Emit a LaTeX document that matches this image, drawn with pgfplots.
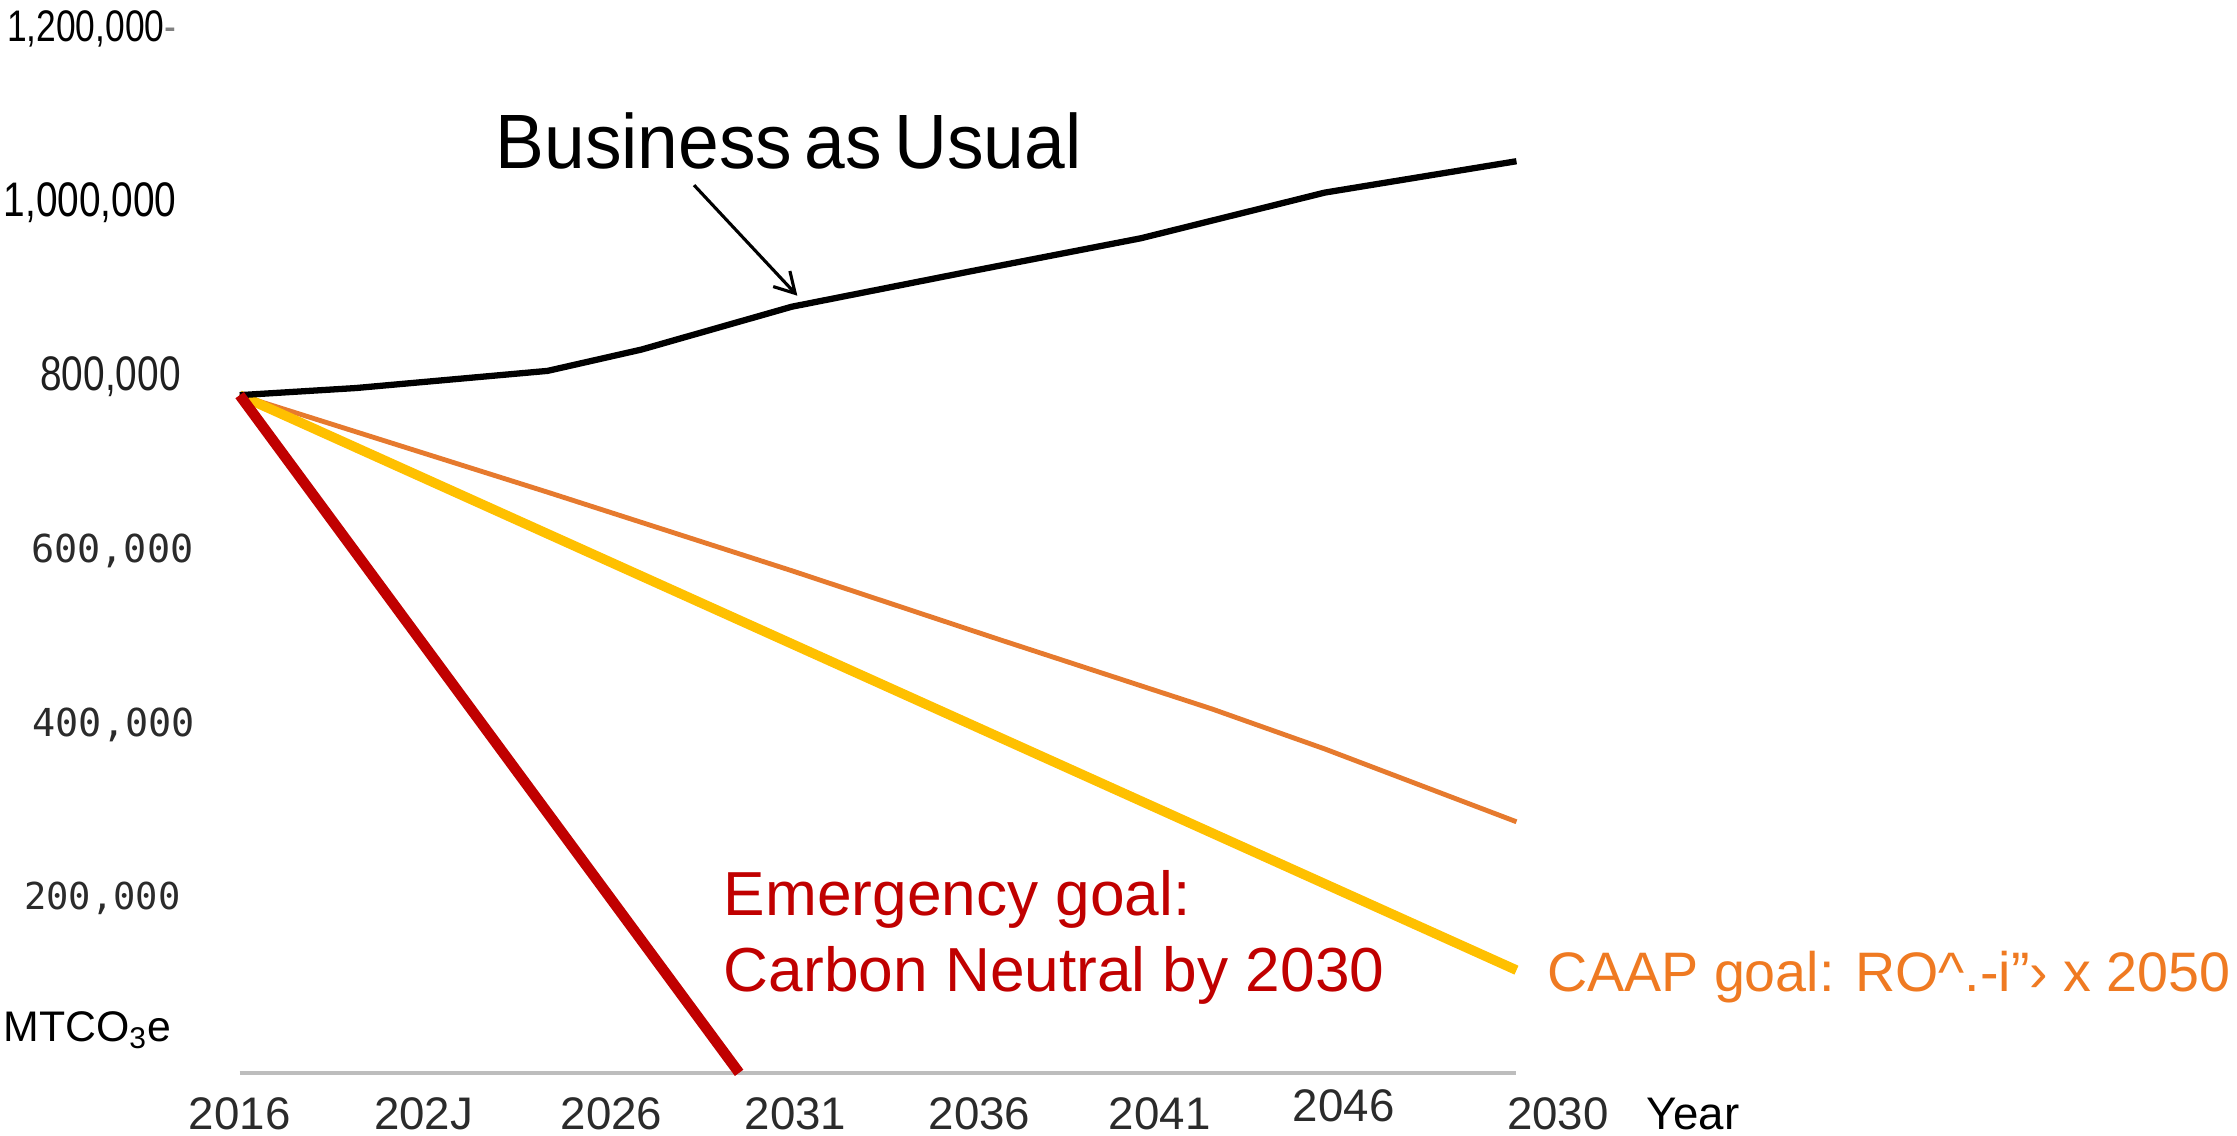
\documentclass[border=0pt]{standalone}
\usepackage{pgfplots}
\pgfplotsset{compat=1.18}
\usetikzlibrary{arrows.meta}
\usepackage{fontspec}
\setmainfont{Liberation Sans}
\newfontfamily\condsans[FakeStretch=0.8]{Liberation Sans}
\newfontfamily\monof{DejaVu Sans Mono}
\newfontfamily\bauf[FakeStretch=0.95,WordSpace=0.6]{Liberation Sans}
\definecolor{cred}{HTML}{C00000}
\definecolor{cyel}{HTML}{FFC000}
\definecolor{corg}{HTML}{E67A2E}
\definecolor{corgtext}{HTML}{EF7A22}
\definecolor{tickgray}{HTML}{2B2B2B}
\definecolor{axgray}{HTML}{BDBDBD}

\pgfplotstableread{
year value
2016.0 778700
2019.1 786900
2024.2 806600
2026.7 831100
2030.7 880300
2035.5 921300
2040.0 959000
2044.9 1011500
2050.0 1047500
}\bau
\pgfplotstableread{
year value
2016.0 778700
2024.2 667200
2030.7 577000
2036.2 498300
2041.9 418000
2044.9 372100
2050.0 288500
}\caap
\pgfplotstableread{
year value
2016.0 778700
2050.0 118000
}\caapline
\pgfplotstableread{
year value
2016.0 778700
2029.3 0
}\emerg

\begin{document}
\begin{tikzpicture}
\path[use as bounding box] (-84pt,-22pt) rectangle (700pt,376pt);
\begin{axis}[
  at={(0,0)}, anchor=south west,
  scale only axis, width=473.8pt, height=366pt,
  xmin=2016, xmax=2052, ymin=0, ymax=1200000,
  axis line style={draw=none},
  tick style={draw=none},
  scaled y ticks=false, scaled x ticks=false,
  clip=false,
  xtick={2016,2020.9,2025.9,2030.8,2035.7,2040.5,2045.4,2051.1},
  xticklabels={2016,202J,2026,2031,2036,2041,\raisebox{3pt}{2046},2030},
  xticklabel style={font=\fontsize{16}{16}\selectfont, text=tickgray, anchor=base, yshift=-20pt, inner sep=0pt},
  ytick={200000,400000,600000,800000,1000000,1200000},
  yticklabels={
    {\monof\fontsize{13}{13}\selectfont\color{tickgray}200,000\kern3.5pt},
    {\monof\fontsize{13.5}{13.5}\selectfont\color{tickgray}400,000\kern-1.5pt},
    {\monof\fontsize{13.5}{13.5}\selectfont\color{tickgray}600,000\kern-1pt},
    {\condsans\fontsize{17}{17}\selectfont\color{black!88}800,000\kern3.5pt},
    {\condsans\fontsize{17}{17}\selectfont\color{black}1,000,000\kern5pt},
    {\condsans\fontsize{15.5}{15.5}\selectfont\color{black}1,200,000{\color{gray}-}\kern5pt}
  },
  yticklabel style={anchor=east, inner sep=0pt, xshift=-17pt},
]
\addplot[axgray, line width=1.2pt] coordinates {(2016,0) (2050,0)};
\addplot[corg, line width=1.7pt] table[x=year,y=value] {\caap};
\addplot[cyel, line width=3.4pt] table[x=year,y=value] {\caapline};
\addplot[black, line width=2.2pt] table[x=year,y=value] {\bau};
\addplot[cred, line width=3.7pt] table[x=year,y=value] {\emerg};

\draw[-{Straight Barb[length=7pt,width=8pt]}, line width=1.1pt]
  (axis cs:2028.1,1020000) -- (axis cs:2030.85,893000);

\node[anchor=base west, inner sep=0pt, font=\bauf\fontsize{27}{27}\selectfont]
  at (axis cs:2022.8,1039300) {Business as Usual};
\node[anchor=base west, inner sep=0pt, text=cred, font=\fontsize{21.8}{21.8}\selectfont]
  at (axis cs:2028.88,180300) {Emergency goal:};
\node[anchor=base west, inner sep=0pt, text=cred, font=\fontsize{21.8}{21.8}\selectfont]
  at (axis cs:2028.88,93400) {Carbon Neutral by 2030};
\node[anchor=base west, inner sep=0pt, text=corgtext, font=\fontsize{19.5}{19.5}\selectfont]
  at (axis cs:2050.8,93400) {CAAP goal: RO\textasciicircum.-i”› x 2050};
\node[anchor=base west, inner sep=0pt, font=\fontsize{16}{16}\selectfont]
  at (axis cs:2053.46,0) [yshift=-20pt] {Year};
\node[anchor=base west, inner sep=0pt, font=\fontsize{15}{15}\selectfont]
  at (axis description cs:0,0) [xshift=-83pt, yshift=11pt] {MTCO\textsubscript{3}e};
\end{axis}
\end{tikzpicture}
\end{document}
